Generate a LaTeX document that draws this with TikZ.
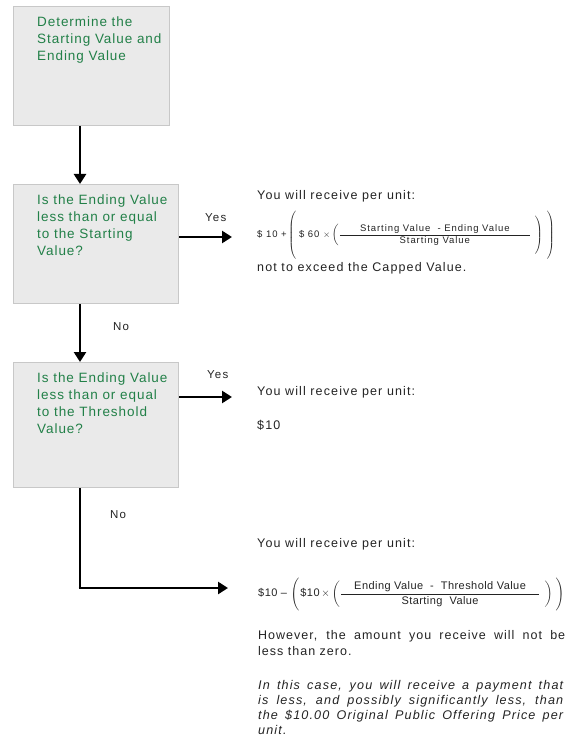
\documentclass[tikz,border=0pt]{standalone}
\usepackage{fontspec}
\usepackage{amsmath}
\setmainfont{Liberation Sans}
\usetikzlibrary{arrows.meta}
\definecolor{boxgreen}{RGB}{34,128,72}
\definecolor{boxfill}{RGB}{234,234,234}
\definecolor{boxline}{RGB}{200,200,200}
\definecolor{txt}{RGB}{35,35,35}
\begin{document}
\begin{tikzpicture}[x=1pt,y=-1pt,
  box/.style={draw=boxline,fill=boxfill,line width=1pt,inner sep=0pt,anchor=north west},
  boxtext/.style={text=boxgreen,font=\fontsize{13.5}{16.7}\selectfont\addfontfeature{LetterSpace=7},align=left,anchor=north west,inner sep=0pt},
  rtext/.style={text=txt,font=\fontsize{12.5}{16}\selectfont\addfontfeature{LetterSpace=9},anchor=west,inner sep=0pt},
  lab/.style={text=txt,font=\fontsize{11.5}{12}\selectfont\addfontfeature{LetterSpace=10},anchor=west,inner sep=0pt},
  arr/.style={line width=2.6pt,-{Triangle[length=10pt,width=12pt]}},
  flowline/.style={line width=2.6pt}]
\useasboundingbox (0,0) rectangle (566,743);
% boxes
\node[box,minimum width=156,minimum height=119] (b1) at (13,6) {};
\node[box,minimum width=165,minimum height=119] (b2) at (13,184) {};
\node[box,minimum width=165,minimum height=125] (b3) at (13,362) {};
\node[boxtext] (t1) at (37,17) {Determine the\\Starting Value and\\Ending Value};
\node[boxtext] (t2) at (37,195) {Is the Ending Value\\less than or equal\\to the Starting\\Value?};
\node[boxtext] (t3) at (37,373) {Is the Ending Value\\less than or equal\\to the Threshold\\Value?};
% coordinates
\coordinate (ax) at (80,0);
\coordinate (y1) at (232,237);
\coordinate (y2) at (232,397);
\coordinate (corner) at (80,588);
\coordinate (e3) at (228,588);
% connectors
\draw[arr] (b1.south -| ax) -- (b2.north -| ax);
\draw[arr] (b2.south -| ax) -- (b3.north -| ax);
\draw[arr] (b2.east |- y1) -- (y1);
\draw[arr] (b3.east |- y2) -- (y2);
\draw[flowline] (b3.south -| ax) -- (corner);
\draw[arr] ([xshift=-1.3pt]corner) -- (e3);
% labels
\node[lab] (yes1) at (205,218) {Yes};
\node[lab] (no1) at (113,327) {No};
\node[lab] (yes2) at (207,375) {Yes};
\node[lab] (no2) at (110,515) {No};
% right texts
\node[rtext] (r1) at (257,196) {You will receive per unit:};
\node[anchor=west,inner sep=0pt,text=txt,font=\fontsize{9.5}{10}\selectfont\addfontfeature{LetterSpace=10}] (f1) at (257,235)
 {\$ 10 +\hspace{1.5pt}$\left(\vphantom{\rule{0pt}{27pt}}\right.$\,\$ 60 $\times\left(\dfrac{\makebox[190pt]{Starting Value\ \ - Ending Value}}{\makebox[190pt]{Starting Value}}\right.\left.\vphantom{\rule{0pt}{23pt}}\right)\hspace{1pt}\left.\vphantom{\rule{0pt}{27pt}}\right)$};
\node[rtext] (r1b) at (257,268) {not to exceed the Capped Value.};
\node[rtext] (r2) at (257,392) {You will receive per unit:};
\node[rtext] (r2b) at (257,425) {\$10};
\node[rtext] (r3) at (257,544) {You will receive per unit:};
\node[anchor=west,inner sep=0pt,text=txt,font=\fontsize{11}{12}\selectfont\addfontfeature{LetterSpace=4}] (f2) at (258,594)
 {\$10 – $\left(\vphantom{\rule{0pt}{19pt}}\right.$\$10\,$\times\left(\dfrac{\makebox[198pt]{Ending\ Value\ \ - \ Threshold Value}}{\makebox[198pt]{Starting\ \ Value}}\right.\left.\vphantom{\rule{0pt}{15pt}}\right)\left.\vphantom{\rule{0pt}{19pt}}\right)$};
\node[text=txt,font=\fontsize{12.5}{16.5}\selectfont\addfontfeature{LetterSpace=8},anchor=north west,inner sep=0pt,text width=307pt,align=justify] (r3b) at (258,630)
 {However, the amount you receive will not be\linebreak less than zero.};
\node[text=txt,font=\fontsize{12.6}{15}\selectfont\itshape\addfontfeature{LetterSpace=9},anchor=north west,inner sep=0pt,text width=305pt,align=justify] (r3c) at (258,680)
 {In this case, you will receive a payment that\linebreak is less, and possibly significantly less, than\linebreak the \$10.00 Original Public Offering Price per\linebreak unit.};
\end{tikzpicture}
\end{document}
